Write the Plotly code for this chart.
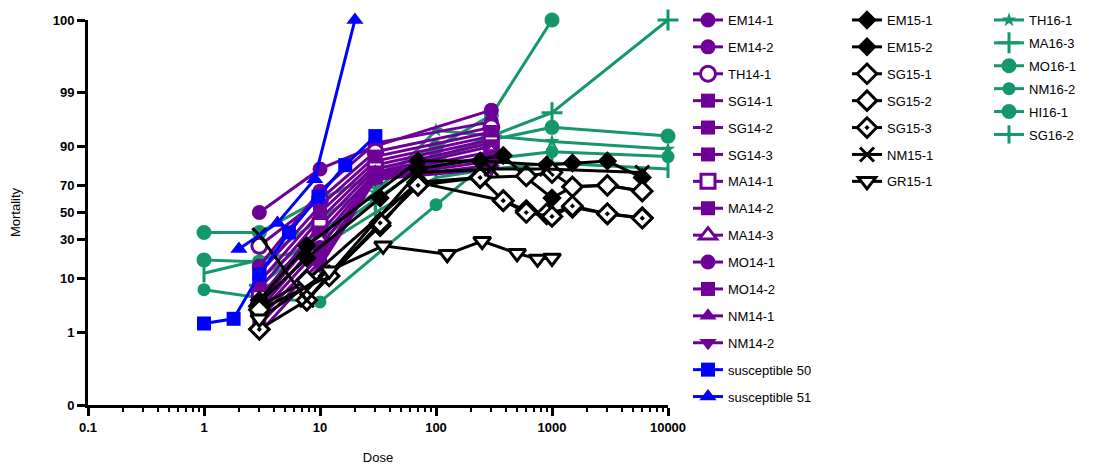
import plotly.graph_objects as go
from statistics import NormalDist

# ---------------- data (dose, % mortality) ----------------
purple_doses = [3, 10, 30, 300]
em14_1 = [50, 80, 90, 97.6]
em14_2 = [15, 66, 91, 96]
th14_1 = [26, 60, 88, 95]
sg14_1 = [12, 55, 86, 94]
sg14_2 = [9, 50, 84, 93]
sg14_3 = [7, 45, 82, 92]
ma14_1 = [5, 40, 80, 91]
ma14_2 = [4, 35, 78, 90]
ma14_3 = [3, 30, 77, 88]
mo14_1 = [2.5, 25, 76, 86]
mo14_2 = [2, 20, 75, 84]
nm14_1 = [1.5, 17, 74, 82]
nm14_2 = [1, 15, 74, 80]

sus50_dose = [1, 1.8, 3, 5.4, 9.7, 16.5, 30]
sus50 = [1.6, 2.0, 11.5, 35, 62, 82, 93]
sus51_dose = [2, 4.3, 9, 20]
sus51 = [24, 42, 74, 100]

em15_1_dose = [3, 7.7, 70, 240, 900, 1500, 3000, 6000]
em15_1 = [4.5, 26, 84, 84, 82, 83, 84, 75]
em15_2_dose = [3, 7.7, 33, 70, 380, 600, 1000, 1500, 3000, 6000]
em15_2 = [4, 19, 61, 80, 86.5, 75, 61, 69, 70, 66]
sg15_1_dose = [3, 7.7, 70, 240, 600, 1000, 1500, 3000, 6000]
sg15_1 = [3.5, 9.5, 72, 75, 76, 78, 69, 70, 66]
sg15_2_dose = [3, 12, 33, 70, 380, 600, 900, 1500, 3000, 6000]
sg15_2 = [3, 11, 40, 72, 59, 51.5, 49, 54, 49, 46]
sg15_3_dose = [3, 7.7, 33, 70, 240, 380, 600, 1000, 1500, 3000, 6000]
sg15_3 = [1.2, 4.5, 42, 70, 75, 59, 50, 47, 55, 49, 45.6]
nm15_1_dose = [3, 7.7, 70, 300, 900, 6000]
nm15_1 = [33, 4.5, 78, 80, 80, 78]
gr15_1_dose = [3, 12, 35, 125, 250, 500, 750, 1000]
gr15_1 = [2, 13, 26, 21, 29, 21.5, 18.5, 19]

th16_1_dose = [3, 10, 30, 100, 300, 1000, 10000]
th16_1 = [10, 35, 65, 94.4, 93, 91.5, 89]
ma16_3_dose = [3, 10, 30, 100, 300, 1000, 10000]
ma16_3 = [8, 30, 60, 85, 93, 97.3, 100]
mo16_1_dose = [1, 3, 10, 30, 100, 300, 1000, 10000]
mo16_1 = [18, 17, 45, 72, 85, 92, 95, 93]
nm16_2_dose = [1, 3, 10, 100, 300, 1000, 10000]
nm16_2 = [6.8, 5, 4.2, 56, 85, 88, 86]
hi16_1_dose = [1, 3, 10, 100, 300, 1000]
hi16_1 = [35, 35, 60, 89.5, 97, 100]
sg16_2_dose = [1, 3, 10, 30, 100, 300, 1000, 10000]
sg16_2 = [12, 18, 25, 50, 75, 80, 83, 80]

y_tick_pct = [0, 1, 10, 30, 50, 70, 90, 99, 100]
y_tick_text = ["0", "1", "10", "30", "50", "70", "90", "99", "100"]
x_tick_vals = [0.1, 1, 10, 100, 1000, 10000]
x_tick_text = ["0.1", "1", "10", "100", "1000", "10000"]

# ---------------- styling ----------------
PURPLE = "#6f0097"
GREEN = "#14986a"
BLUE = "#0000ff"
BLACK = "#000000"
FONT = "Liberation Sans, Arial, sans-serif"

nd = NormalDist()


def probit(pct):
    p = min(max(pct / 100.0, 0.0001), 0.9999)
    return nd.inv_cdf(p)


# name, doses, values, color, symbol, fill, size, legend, rank
series = [
    # green (drawn first, bottom)
    ("TH16-1", th16_1_dose, th16_1, GREEN, "star", GREEN, 11, "legend3", 301),
    ("MA16-3", ma16_3_dose, ma16_3, GREEN, "cross-thin", GREEN, 15, "legend3", 302),
    ("MO16-1", mo16_1_dose, mo16_1, GREEN, "circle", GREEN, 15, "legend3", 303),
    ("NM16-2", nm16_2_dose, nm16_2, GREEN, "circle", GREEN, 13, "legend3", 304),
    ("HI16-1", hi16_1_dose, hi16_1, GREEN, "circle", GREEN, 15, "legend3", 305),
    ("SG16-2", sg16_2_dose, sg16_2, GREEN, "line-ns", GREEN, 13, "legend3", 306),
    # purple
    ("EM14-1", purple_doses, em14_1, PURPLE, "circle", PURPLE, 15, "legend", 101),
    ("EM14-2", purple_doses, em14_2, PURPLE, "circle", PURPLE, 15, "legend", 102),
    ("TH14-1", purple_doses, th14_1, PURPLE, "circle", "white", 15, "legend", 103),
    ("SG14-1", purple_doses, sg14_1, PURPLE, "square", PURPLE, 14, "legend", 104),
    ("SG14-2", purple_doses, sg14_2, PURPLE, "square", PURPLE, 14, "legend", 105),
    ("SG14-3", purple_doses, sg14_3, PURPLE, "square", PURPLE, 14, "legend", 106),
    ("MA14-1", purple_doses, ma14_1, PURPLE, "square", "white", 14, "legend", 107),
    ("MA14-2", purple_doses, ma14_2, PURPLE, "square-x", PURPLE, 14, "legend", 108),
    ("MA14-3", purple_doses, ma14_3, PURPLE, "triangle-up", "white", 15, "legend", 109),
    ("MO14-1", purple_doses, mo14_1, PURPLE, "circle", PURPLE, 15, "legend", 110),
    ("MO14-2", purple_doses, mo14_2, PURPLE, "square", PURPLE, 14, "legend", 111),
    ("NM14-1", purple_doses, nm14_1, PURPLE, "triangle-up", PURPLE, 15, "legend", 112),
    ("NM14-2", purple_doses, nm14_2, PURPLE, "triangle-down", PURPLE, 15, "legend", 113),
    # black
    ("EM15-1", em15_1_dose, em15_1, BLACK, "diamond", BLACK, 15, "legend2", 201),
    ("EM15-2", em15_2_dose, em15_2, BLACK, "diamond", BLACK, 15, "legend2", 202),
    ("SG15-1", sg15_1_dose, sg15_1, BLACK, "diamond", "white", 15, "legend2", 203),
    ("SG15-2", sg15_2_dose, sg15_2, BLACK, "diamond", "white", 15, "legend2", 204),
    ("SG15-3", sg15_3_dose, sg15_3, BLACK, "diamond-dot", "white", 15, "legend2", 205),
    ("NM15-1", nm15_1_dose, nm15_1, BLACK, "x-thin", BLACK, 14, "legend2", 206),
    ("GR15-1", gr15_1_dose, gr15_1, BLACK, "triangle-down", "white", 15, "legend2", 207),
    # blue (top)
    ("susceptible 50", sus50_dose, sus50, BLUE, "square", BLUE, 14, "legend", 114),
    ("susceptible 51", sus51_dose, sus51, BLUE, "triangle-up", BLUE, 15, "legend", 115),
]

fig = go.Figure()
for i, (name, xs, ys, col, sym, fill, size, leg, rank) in enumerate(series):
    thin = sym in ("x-thin", "cross-thin", "line-ns")
    fig.add_trace(go.Scatter(
        x=xs,
        y=[probit(v) for v in ys],
        name=name,
        mode="lines+markers",
        line=dict(color=col, width=3),
        marker=dict(symbol=sym, size=size, color=fill,
                    line=dict(color=col, width=3 if (thin or fill == "white") else 0)),
        legend=leg,
        legendrank=rank,
        legendgroup=name,
        cliponaxis=False,
    ))

minor_vals = [m * 10 ** k for k in range(-1, 4) for m in range(2, 10)]

fig.update_xaxes(
    type="log", range=[-1, 4],
    tickvals=x_tick_vals, ticktext=x_tick_text,
    showline=True, linewidth=3, linecolor="black",
    ticks="outside", ticklen=8, tickwidth=3, tickcolor="black",
    showgrid=False, zeroline=False,
    tickfont=dict(family=FONT, size=13, color="black", weight="bold"),
    minor=dict(tickvals=minor_vals, ticks="outside", ticklen=4, tickwidth=2,
               tickcolor="black", showgrid=False),
    title=dict(text="Dose", font=dict(family=FONT, size=13, color="black"), standoff=20),
)
fig.update_yaxes(
    range=[probit(0), probit(100)],
    tickvals=[probit(v) for v in y_tick_pct], ticktext=y_tick_text,
    showline=True, linewidth=3, linecolor="black",
    ticks="outside", ticklen=8, tickwidth=3, tickcolor="black",
    showgrid=False, zeroline=False,
    tickfont=dict(family=FONT, size=13, color="black", weight="bold"),
    title=dict(text="Mortality", font=dict(family=FONT, size=13, color="black"), standoff=30),
)

PLOT_L, PLOT_R, PLOT_T, PLOT_B = 88, 668, 20, 405
W, H = 1109, 466


def px_to_paper_x(px):
    return (px - PLOT_L) / (PLOT_R - PLOT_L)


def px_to_paper_y(py):
    return (PLOT_B - py) / (PLOT_B - PLOT_T)


legend_common = dict(
    bgcolor="rgba(0,0,0,0)", borderwidth=0,
    font=dict(family=FONT, size=13, color="black"),
    xanchor="left", yanchor="top", traceorder="grouped",
    itemsizing="trace", itemwidth=30, maxheight=460,
)
fig.update_layout(
    width=W, height=H,
    margin=dict(l=PLOT_L, r=W - PLOT_R, t=PLOT_T, b=H - PLOT_B, autoexpand=False),
    paper_bgcolor="white", plot_bgcolor="white",
    showlegend=True,
    legend=dict(x=px_to_paper_x(688), y=px_to_paper_y(5), tracegroupgap=7, **legend_common),
    legend2=dict(x=px_to_paper_x(847), y=px_to_paper_y(5), tracegroupgap=7, **legend_common),
    legend3=dict(x=px_to_paper_x(989), y=px_to_paper_y(5), tracegroupgap=3, **legend_common),
)

fig.write_html("out.html")
